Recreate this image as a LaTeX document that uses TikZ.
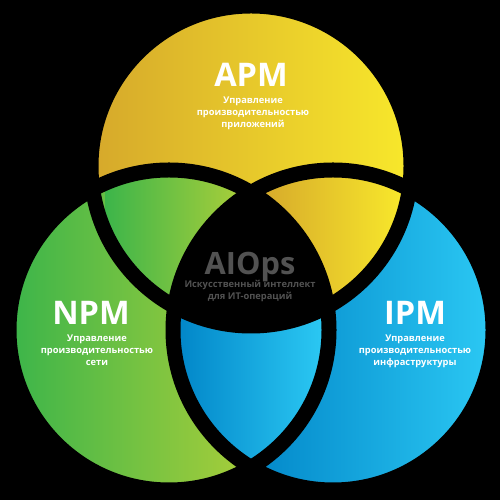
\documentclass[tikz,border=0pt]{standalone}
\usepackage{fontspec}
\setmainfont{Open Sans}
\definecolor{ygold}{HTML}{D6A92B}
\definecolor{yyellow}{HTML}{F8E82B}
\definecolor{ggreen}{HTML}{3CB54A}
\definecolor{glime}{HTML}{A8CE3A}
\definecolor{bdark}{HTML}{0287C9}
\definecolor{blight}{HTML}{2BC8F3}
\definecolor{aigray}{HTML}{525252}
\begin{document}
\begin{tikzpicture}[
        ttl/.style={inner sep=0, anchor=base, text=white, font=\fontsize{18.5}{20}\selectfont\bfseries},
        subtxt/.style={inner sep=0, align=center, text=white, font=\fontsize{5.3}{6.8}\selectfont\bfseries}
    ]
        \fill[black] (0, 0) rectangle (10, 10);
        \useasboundingbox (0, 0) rectangle (10, 10);
        % circle fills
        \begin{scope}
            \clip (5.02, 6.68) circle[radius=3.2];
            \fill[left color=ygold, right color=yyellow] (1.9, 3.3) rectangle (8.2, 10);
        \end{scope}
        \begin{scope}
            \clip (3.38, 3.4) circle[radius=3.2];
            \fill[left color=ggreen, right color=glime] (0.25, 0) rectangle (5, 6.7);
        \end{scope}
        \begin{scope}
            \clip (6.66, 3.4) circle[radius=3.2];
            \fill[left color=bdark, right color=blight] (5, 0) rectangle (9.8, 6.7);
        \end{scope}
        % lenses
        \begin{scope}
            \clip (5.02, 6.68) circle[radius=3.2];
            \clip (3.38, 3.4) circle[radius=3.2];
            \fill[left color=ggreen, right color=glime] (2.1, 3) rectangle (4.8, 7);
        \end{scope}
        \begin{scope}
            \clip (5.02, 6.68) circle[radius=3.2];
            \clip (6.66, 3.4) circle[radius=3.2];
            \fill[left color=ygold, right color=yyellow] (5.2, 3) rectangle (8.05, 7);
        \end{scope}
        \begin{scope}
            \clip (3.38, 3.4) circle[radius=3.2];
            \clip (6.66, 3.4) circle[radius=3.2];
            \fill[left color=bdark, right color=blight] (3.6, 0.5) rectangle (6.45, 4);
        \end{scope}
        \begin{scope}
            \clip (5.02, 6.68) circle[radius=3.2];
            \clip (3.38, 3.4) circle[radius=3.2];
            \fill[black] (6.66, 3.4) circle[radius=3.2];
        \end{scope}
        % outlines
        \draw[black, line width=0.3cm] (5.02, 6.68) circle[radius=3.2];
        \draw[black, line width=0.3cm] (3.38, 3.4) circle[radius=3.2];
        \draw[black, line width=0.3cm] (6.66, 3.4) circle[radius=3.2];
        % labels
        \node[ttl] (apm) at (5.02, 8.26) {APM};
        \node[subtxt] (apmsub) at (5.06, 7.74) {Управление\\производительностью\\приложений};
        \node[ttl] (npm) at (1.82, 3.5) {NPM};
        \node[subtxt] (npmsub) at (1.94, 3.0) {Управление\\производительностью\\сети};
        \node[ttl] (ipm) at (8.3, 3.5) {IPM};
        \node[subtxt] (ipmsub) at (8.3, 2.98) {Управление\\производительностью\\инфраструктуры};
        \node[ttl, text=aigray, font=\fontsize{17.5}{19}\selectfont\bfseries] (aiops) at (5, 4.5) {AIOps};
        \node[subtxt, text=aigray] (aiopssub) at (5, 4.18) {Искусственный интеллект\\для ИТ-операций};
    \end{tikzpicture}
\end{document}
